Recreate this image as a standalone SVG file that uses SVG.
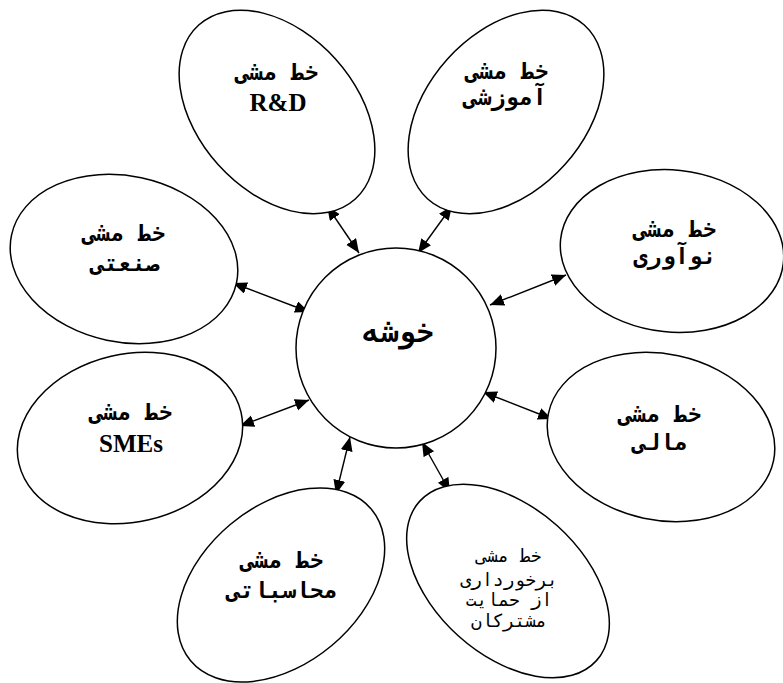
<svg xmlns="http://www.w3.org/2000/svg" width="783" height="683" viewBox="0 0 783 683">
<defs>
<style>
.node{fill:#fff;stroke:#000;stroke-width:1.5}
.fa{font-family:"DejaVu Sans Mono","DejaVu Sans",monospace;font-size:23px;font-weight:bold;text-anchor:middle;fill:#000}
.fc{font-family:"DejaVu Sans Mono","DejaVu Sans",monospace;font-size:30px;font-weight:bold;text-anchor:middle;fill:#000}
.fs{font-family:"DejaVu Sans Mono","DejaVu Sans",monospace;font-size:18px;text-anchor:middle;fill:#000}
.en{font-family:"Liberation Serif",serif;font-size:25px;font-weight:bold;text-anchor:middle;fill:#000}
.conn{stroke:#000;stroke-width:1.4;fill:none;marker-start:url(#ah);marker-end:url(#ah)}
</style>
<marker id="ah" markerUnits="userSpaceOnUse" markerWidth="15" markerHeight="13" refX="14" refY="6" orient="auto-start-reverse">
<path d="M0,0 L14,6 L0,12 z" fill="#000"/>
</marker>
</defs>
<rect width="783" height="683" fill="#fff"/>
<g id="connectors">
<line class="conn" x1="327" y1="206" x2="359" y2="253"/>
<line class="conn" x1="452" y1="206" x2="418" y2="253"/>
<line class="conn" x1="233" y1="283" x2="309" y2="312"/>
<line class="conn" x1="566" y1="275" x2="490" y2="305"/>
<line class="conn" x1="240" y1="426" x2="309" y2="400"/>
<line class="conn" x1="552" y1="419" x2="483" y2="392"/>
<line class="conn" x1="336" y1="494" x2="350" y2="437"/>
<line class="conn" x1="450" y1="492" x2="422" y2="442"/>
</g>
<g id="center">
<circle class="node" cx="396" cy="348" r="100"/>
<text class="fc" x="398" y="342">خوشه</text>
</g>
<g id="rd">
<ellipse class="node" cx="277" cy="112" rx="117" ry="79" transform="rotate(48 277 112)"/>
<text class="fa" x="277" y="80">خط مشی</text>
<text class="en" x="278" y="111">R&amp;D</text>
</g>
<g id="amoozeshi">
<ellipse class="node" cx="506" cy="112" rx="117" ry="79" transform="rotate(-48 506 112)"/>
<text class="fa" x="507" y="79">خط مشی</text>
<text class="fa" x="505" y="105">آموزشی</text>
</g>
<g id="sanati">
<ellipse class="node" cx="124" cy="259" rx="115" ry="83" transform="rotate(12 124 259)"/>
<text class="fa" x="124" y="241">خط مشی</text>
<text class="fa" x="125" y="271">صنعتی</text>
</g>
<g id="noavari">
<ellipse class="node" cx="672" cy="251" rx="112" ry="81" transform="rotate(6 672 251)"/>
<text class="fa" x="675" y="237">خط مشی</text>
<text class="fa" x="675" y="264">نوآوری</text>
</g>
<g id="smes">
<ellipse class="node" cx="130" cy="438" rx="114" ry="84" transform="rotate(-13 130 438)"/>
<text class="fa" x="131" y="420">خط مشی</text>
<text class="en" x="131" y="452">SMEs</text>
</g>
<g id="mali">
<ellipse class="node" cx="661" cy="437" rx="115" ry="83" transform="rotate(12 661 437)"/>
<text class="fa" x="660" y="422">خط مشی</text>
<text class="fa" x="660" y="450">مالی</text>
</g>
<g id="mohasebati">
<ellipse class="node" cx="281" cy="585" rx="118" ry="79" transform="rotate(-40 281 585)"/>
<text class="fa" x="282" y="568">خط مشی</text>
<text class="fa" x="282" y="598">محاسباتی</text>
</g>
<g id="barkhordari">
<ellipse class="node" cx="508" cy="581" rx="119" ry="74" transform="rotate(42 508 581)"/>
<text class="fs" x="509" y="562">خط مشی</text>
<text class="fs" x="509" y="586">برخورداری</text>
<text class="fs" x="509" y="606">از حمایت</text>
<text class="fs" x="509" y="627">مشترکان</text>
</g>
</svg>
